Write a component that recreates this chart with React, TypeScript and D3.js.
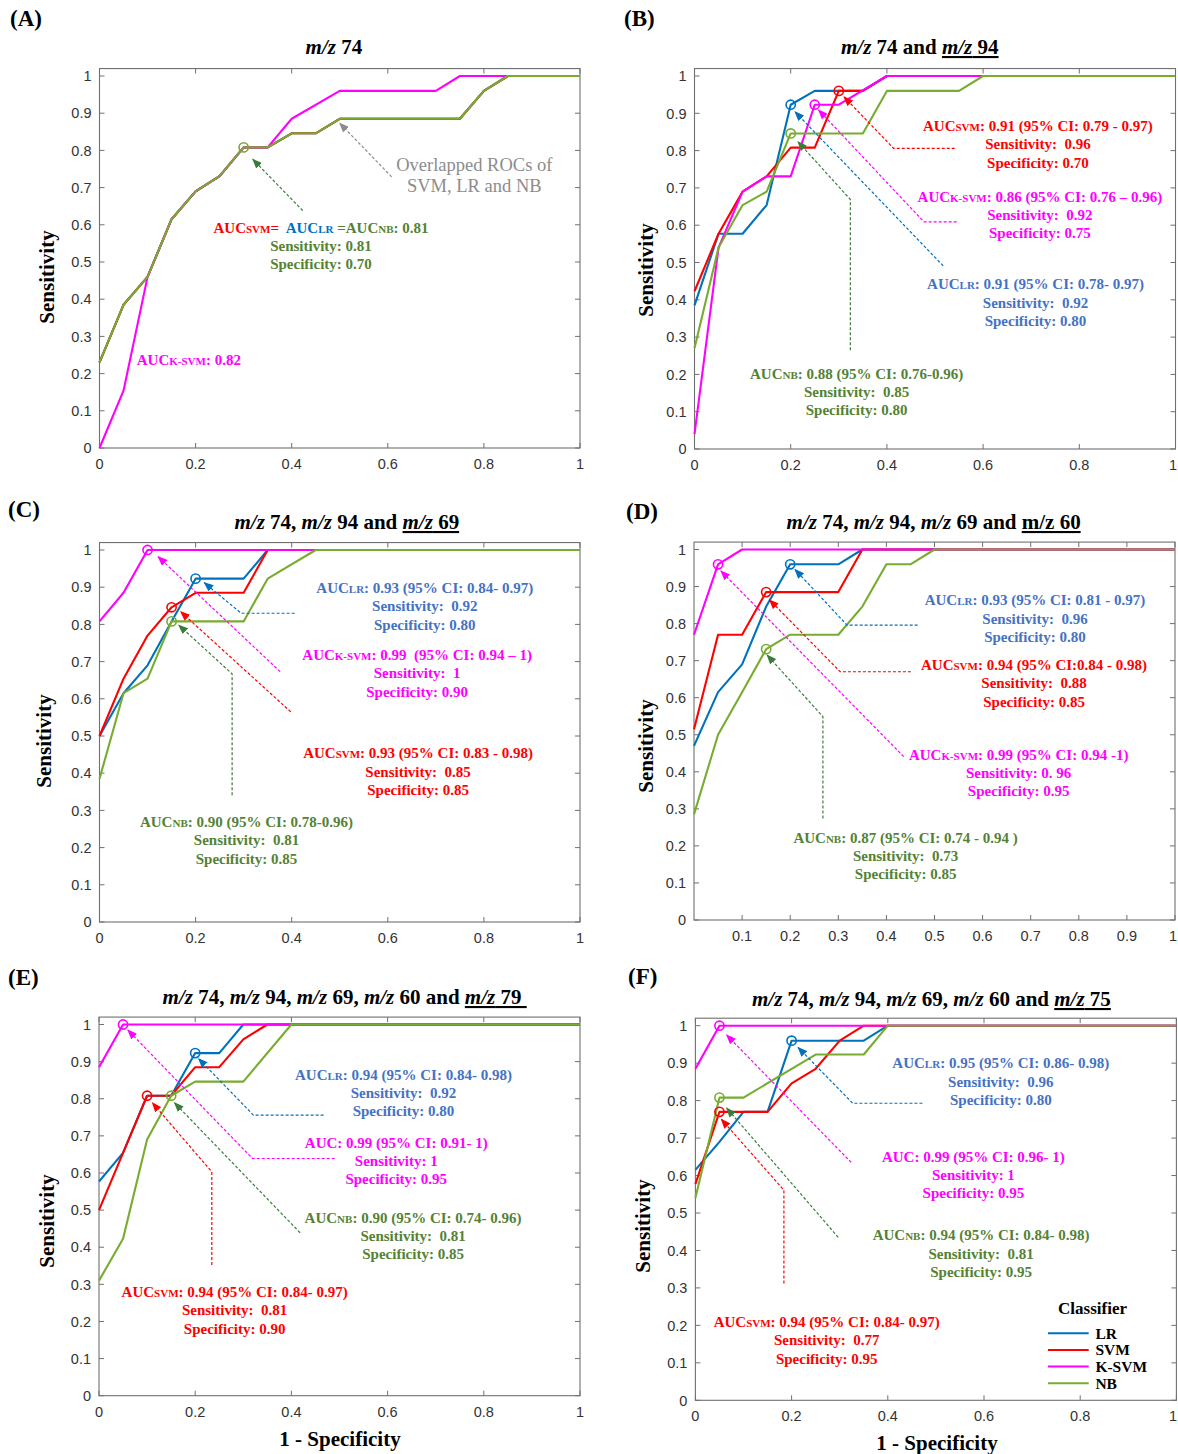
import React from 'react';
import * as d3 from 'd3';

type Pt = [number, number];

// ---------- classifiers ----------
const CLASSIFIERS = ['LR', 'SVM', 'K-SVM', 'NB'];
const CURVE_COLORS = ['#0072BD', '#FF0000', '#FF00FF', '#77AC30'];
const TEXT_COLORS = ['#4472C4', '#FF0000', '#FF00FF', '#548235'];
const ARROW_COLORS = ['#0070C0', '#FF0000', '#FF00FF', '#3A7D3A'];
const SUBS = ['LR', 'SVM', 'K-SVM', 'NB'];

// ---------- ROC data (FPR, TPR) ----------
// (A) m/z 74  (LR, SVM and NB overlap)
const A_NB: Pt[] = [[0, 0.23], [0.05, 0.385], [0.1, 0.46], [0.15, 0.615], [0.2, 0.69], [0.25, 0.731], [0.3, 0.808], [0.35, 0.808], [0.4, 0.846], [0.45, 0.846], [0.5, 0.885], [0.75, 0.885], [0.8, 0.96], [0.85, 1], [1, 1]];
const A_LR: Pt[] = [[0, 0.23], [0.05, 0.385], [0.1, 0.46], [0.15, 0.615], [0.2, 0.69], [0.25, 0.731], [0.3, 0.808], [0.35, 0.808], [0.4, 0.846], [0.45, 0.846], [0.5, 0.885], [0.75, 0.885], [0.8, 0.96], [0.85, 1], [1, 1]];
const A_SVM: Pt[] = [[0, 0.23], [0.05, 0.385], [0.1, 0.46], [0.15, 0.615], [0.2, 0.69], [0.25, 0.731], [0.3, 0.808], [0.35, 0.808], [0.4, 0.846], [0.45, 0.846], [0.5, 0.885], [0.75, 0.885], [0.8, 0.96], [0.85, 1], [1, 1]];
const A_KSVM: Pt[] = [[0, 0], [0.05, 0.154], [0.1, 0.46], [0.15, 0.615], [0.2, 0.69], [0.25, 0.731], [0.3, 0.808], [0.35, 0.808], [0.4, 0.885], [0.5, 0.96], [0.7, 0.96], [0.75, 1], [1, 1]];
// (B) m/z 74 and m/z 94
const B_LR: Pt[] = [[0, 0.385], [0.05, 0.577], [0.1, 0.577], [0.15, 0.654], [0.2, 0.923], [0.25, 0.96], [0.35, 0.96], [0.4, 1], [1, 1]];
const B_SVM: Pt[] = [[0, 0.423], [0.05, 0.577], [0.1, 0.69], [0.15, 0.731], [0.2, 0.808], [0.25, 0.808], [0.3, 0.96], [0.35, 0.96], [0.4, 1], [1, 1]];
const B_KSVM: Pt[] = [[0, 0.04], [0.05, 0.54], [0.1, 0.69], [0.15, 0.731], [0.2, 0.731], [0.25, 0.923], [0.3, 0.923], [0.4, 1], [1, 1]];
const B_NB: Pt[] = [[0, 0.27], [0.05, 0.54], [0.1, 0.654], [0.15, 0.69], [0.2, 0.846], [0.25, 0.846], [0.35, 0.846], [0.4, 0.96], [0.55, 0.96], [0.6, 1], [1, 1]];
// (C) m/z 74, m/z 94 and m/z 69
const C_LR: Pt[] = [[0, 0.5], [0.05, 0.615], [0.1, 0.69], [0.15, 0.808], [0.2, 0.923], [0.3, 0.923], [0.35, 1], [1, 1]];
const C_SVM: Pt[] = [[0, 0.5], [0.05, 0.654], [0.1, 0.77], [0.15, 0.846], [0.2, 0.885], [0.3, 0.885], [0.35, 1], [1, 1]];
const C_KSVM: Pt[] = [[0, 0.808], [0.05, 0.885], [0.1, 1], [1, 1]];
const C_NB: Pt[] = [[0, 0.385], [0.05, 0.615], [0.1, 0.654], [0.15, 0.808], [0.3, 0.808], [0.35, 0.923], [0.45, 1], [1, 1]];
// (D) m/z 74, m/z 94, m/z 69 and m/z 60
const D_LR: Pt[] = [[0, 0.47], [0.05, 0.615], [0.1, 0.69], [0.15, 0.846], [0.2, 0.96], [0.3, 0.96], [0.35, 1], [1, 1]];
const D_SVM: Pt[] = [[0, 0.515], [0.05, 0.77], [0.1, 0.77], [0.15, 0.885], [0.3, 0.885], [0.35, 1], [1, 1]];
const D_KSVM: Pt[] = [[0, 0.77], [0.05, 0.96], [0.1, 1], [1, 1]];
const D_NB: Pt[] = [[0, 0.285], [0.05, 0.5], [0.1, 0.615], [0.15, 0.731], [0.2, 0.77], [0.3, 0.77], [0.35, 0.846], [0.4, 0.96], [0.45, 0.96], [0.5, 1], [1, 1]];
// (E) m/z 74, m/z 94, m/z 69, m/z 60 and m/z 79
const E_LR: Pt[] = [[0, 0.577], [0.05, 0.654], [0.1, 0.808], [0.15, 0.808], [0.2, 0.923], [0.25, 0.923], [0.3, 1], [1, 1]];
const E_SVM: Pt[] = [[0, 0.5], [0.05, 0.654], [0.1, 0.808], [0.15, 0.808], [0.2, 0.885], [0.25, 0.885], [0.3, 0.96], [0.35, 1], [1, 1]];
const E_KSVM: Pt[] = [[0, 0.885], [0.05, 1], [1, 1]];
const E_NB: Pt[] = [[0, 0.31], [0.05, 0.423], [0.1, 0.69], [0.15, 0.808], [0.2, 0.846], [0.3, 0.846], [0.4, 1], [1, 1]];
// (F) m/z 74, m/z 94, m/z 69, m/z 60 and m/z 75
const F_LR: Pt[] = [[0, 0.615], [0.05, 0.69], [0.1, 0.77], [0.15, 0.77], [0.2, 0.96], [0.35, 0.96], [0.4, 1], [1, 1]];
const F_SVM: Pt[] = [[0, 0.577], [0.05, 0.77], [0.15, 0.77], [0.2, 0.846], [0.25, 0.885], [0.3, 0.96], [0.35, 1], [1, 1]];
const F_KSVM: Pt[] = [[0, 0.885], [0.05, 1], [1, 1]];
const F_NB: Pt[] = [[0, 0.54], [0.05, 0.808], [0.1, 0.808], [0.25, 0.923], [0.35, 0.923], [0.4, 1], [1, 1]];

// optimal cut-off points: [classifier index, fpr, tpr]
const A_OPT: [number, number, number][] = [[3, 0.3, 0.808]];
const B_OPT: [number, number, number][] = [[0, 0.2, 0.923], [1, 0.3, 0.96], [2, 0.25, 0.923], [3, 0.2, 0.846]];
const C_OPT: [number, number, number][] = [[0, 0.2, 0.923], [1, 0.15, 0.846], [2, 0.1, 1], [3, 0.15, 0.808]];
const D_OPT: [number, number, number][] = [[0, 0.2, 0.96], [1, 0.15, 0.885], [2, 0.05, 0.96], [3, 0.15, 0.731]];
const E_OPT: [number, number, number][] = [[0, 0.2, 0.923], [1, 0.1, 0.808], [2, 0.05, 1], [3, 0.15, 0.808]];
const F_OPT: [number, number, number][] = [[0, 0.2, 0.96], [1, 0.05, 0.77], [2, 0.05, 1], [3, 0.05, 0.808]];

// tick values
const Y_TICKS = [0, 0.1, 0.2, 0.3, 0.4, 0.5, 0.6, 0.7, 0.8, 0.9, 1];
const X_TICKS = [0, 0.2, 0.4, 0.6, 0.8, 1];
const X_TICKS_D = [0.1, 0.2, 0.3, 0.4, 0.5, 0.6, 0.7, 0.8, 0.9, 1];

// ---------- annotations ----------
type Seg = { t: string; sub?: boolean; color?: string };
type Ann = { color: string; arrow?: string; cx: number; ys: number[]; lines: Seg[][]; path?: Pt[]; size?: number; weight?: string };

function mk(ci: number, cx: number, ys: number[], path: Pt[], auc: string, sens: string, spec: string, noSub = false): Ann {
  const first: Seg[] = noSub ? [{ t: 'AUC' + auc }] : [{ t: 'AUC' }, { t: SUBS[ci], sub: true }, { t: auc }];
  return { color: TEXT_COLORS[ci], arrow: ARROW_COLORS[ci], cx, ys, path, lines: [first, [{ t: sens }], [{ t: spec }]] };
}

const A_ANN: Ann[] = [
  {
    color: TEXT_COLORS[3], arrow: ARROW_COLORS[3], cx: 0.461, ys: [0.578, 0.53, 0.481], path: [[0.423, 0.638], [0.319, 0.776]],
    lines: [
      [{ t: 'AUC', color: '#FF0000' }, { t: 'SVM', sub: true, color: '#FF0000' }, { t: '=  ', color: '#FF0000' }, { t: 'AUC', color: '#0070C0' }, { t: 'LR', sub: true, color: '#0070C0' }, { t: ' =AUC' }, { t: 'NB', sub: true }, { t: ': 0.81' }],
      [{ t: 'Sensitivity: 0.81' }],
      [{ t: 'Specificity: 0.70' }],
    ],
  },
  { color: '#8C8C8C', arrow: '#8C8C8C', cx: 0.78, ys: [0.745, 0.688], path: [[0.608, 0.729], [0.5, 0.873]], size: 18.5, weight: 'normal', lines: [[{ t: 'Overlapped ROCs of' }], [{ t: 'SVM, LR and NB' }]] },
  { color: TEXT_COLORS[2], cx: 0.186, ys: [0.223], lines: [[{ t: 'AUC' }, { t: 'K-SVM', sub: true }, { t: ': 0.82' }]] },
];
const B_ANN: Ann[] = [
  mk(1, 0.714, [0.853, 0.804, 0.753], [[0.541, 0.806], [0.414, 0.806], [0.311, 0.944]], ': 0.91 (95% CI: 0.79 - 0.97)', 'Sensitivity:  0.96', 'Specificity: 0.70'),
  mk(2, 0.718, [0.662, 0.614, 0.566], [[0.545, 0.609], [0.477, 0.609], [0.258, 0.909]], ': 0.86 (95% CI: 0.76 – 0.96)', 'Sensitivity:  0.92', 'Specificity: 0.75'),
  mk(0, 0.709, [0.429, 0.379, 0.33], [[0.517, 0.491], [0.209, 0.904]], ': 0.91 (95% CI: 0.78- 0.97)', 'Sensitivity:  0.92', 'Specificity: 0.80'),
  mk(3, 0.337, [0.189, 0.139, 0.091], [[0.324, 0.265], [0.324, 0.669], [0.215, 0.824]], ': 0.88 (95% CI: 0.76-0.96)', 'Sensitivity:  0.85', 'Specificity: 0.80'),
];
const C_ANN: Ann[] = [
  mk(0, 0.677, [0.884, 0.836, 0.786], [[0.406, 0.83], [0.295, 0.83], [0.218, 0.912]], ': 0.93 (95% CI: 0.84- 0.97)', 'Sensitivity:  0.92', 'Specificity: 0.80'),
  mk(2, 0.661, [0.704, 0.655, 0.605], [[0.376, 0.673], [0.122, 0.982]], ': 0.99  (95% CI: 0.94 – 1)', 'Sensitivity:  1', 'Specificity: 0.90'),
  mk(1, 0.663, [0.44, 0.39, 0.341], [[0.398, 0.565], [0.169, 0.834]], ': 0.93 (95% CI: 0.83 - 0.98)', 'Sensitivity:  0.85', 'Specificity: 0.85'),
  mk(3, 0.306, [0.255, 0.207, 0.157], [[0.276, 0.341], [0.276, 0.667], [0.165, 0.798]], ': 0.90 (95% CI: 0.78-0.96)', 'Sensitivity:  0.81', 'Specificity: 0.85'),
];
const D_ANN: Ann[] = [
  mk(0, 0.709, [0.85, 0.8, 0.75], [[0.465, 0.796], [0.318, 0.796], [0.21, 0.946]], ': 0.93 (95% CI: 0.81 - 0.97)', 'Sensitivity:  0.96', 'Specificity: 0.80'),
  mk(1, 0.707, [0.675, 0.625, 0.575], [[0.451, 0.67], [0.304, 0.67], [0.157, 0.864]], ': 0.94 (95% CI:0.84 - 0.98)', 'Sensitivity:  0.88', 'Specificity: 0.85'),
  mk(2, 0.675, [0.433, 0.383, 0.335], [[0.436, 0.441], [0.056, 0.942]], ': 0.99 (95% CI: 0.94 -1)', 'Sensitivity: 0. 96', 'Specificity: 0.95'),
  mk(3, 0.44, [0.209, 0.159, 0.111], [[0.268, 0.274], [0.268, 0.549], [0.152, 0.715]], ': 0.87 (95% CI: 0.74 - 0.94 )', 'Sensitivity:  0.73', 'Specificity: 0.85'),
];
const E_ANN: Ann[] = [
  mk(0, 0.633, [0.851, 0.802, 0.753], [[0.467, 0.756], [0.321, 0.756], [0.207, 0.908]], ': 0.94 (95% CI: 0.84- 0.98)', 'Sensitivity:  0.92', 'Specificity: 0.80'),
  mk(2, 0.618, [0.668, 0.618, 0.57], [[0.49, 0.639], [0.319, 0.639], [0.06, 0.985]], ': 0.99 (95% CI: 0.91- 1)', 'Sensitivity: 1', 'Specificity: 0.95', true),
  mk(3, 0.653, [0.466, 0.417, 0.368], [[0.418, 0.439], [0.157, 0.789]], ': 0.90 (95% CI: 0.74- 0.96)', 'Sensitivity:  0.81', 'Specificity: 0.85'),
  mk(1, 0.282, [0.266, 0.217, 0.167], [[0.2345, 0.352], [0.2345, 0.603], [0.111, 0.789]], ': 0.94 (95% CI: 0.84- 0.97)', 'Sensitivity:  0.81', 'Specificity: 0.90'),
];
const F_ANN: Ann[] = [
  mk(0, 0.635, [0.886, 0.836, 0.788], [[0.472, 0.793], [0.327, 0.793], [0.2135, 0.942]], ': 0.95 (95% CI: 0.86- 0.98)', 'Sensitivity:  0.96', 'Specificity: 0.80'),
  mk(2, 0.578, [0.636, 0.588, 0.539], [[0.324, 0.635], [0.065, 0.975]], ': 0.99 (95% CI: 0.96- 1)', 'Sensitivity: 1', 'Specificity: 0.95', true),
  mk(3, 0.594, [0.427, 0.377, 0.329], [[0.297, 0.435], [0.065, 0.78]], ': 0.94 (95% CI: 0.84- 0.98)', 'Sensitivity:  0.81', 'Specificity: 0.95'),
  mk(1, 0.273, [0.196, 0.148, 0.098], [[0.184, 0.312], [0.184, 0.561], [0.054, 0.75]], ': 0.94 (95% CI: 0.84- 0.97)', 'Sensitivity:  0.77', 'Specificity: 0.95'),
];

// ---------- titles ----------
type TPart = { t: string; i?: boolean; u?: boolean };
const A_TITLE: TPart[] = [{ t: 'm/z', i: true }, { t: ' 74' }];
const B_TITLE: TPart[] = [{ t: 'm/z', i: true }, { t: ' 74 and ' }, { t: 'm/z', i: true, u: true }, { t: ' 94', u: true }];
const C_TITLE: TPart[] = [{ t: 'm/z', i: true }, { t: ' 74, ' }, { t: 'm/z', i: true }, { t: ' 94 and ' }, { t: 'm/z', i: true, u: true }, { t: ' 69', u: true }];
const D_TITLE: TPart[] = [{ t: 'm/z', i: true }, { t: ' 74, ' }, { t: 'm/z', i: true }, { t: ' 94, ' }, { t: 'm/z', i: true }, { t: ' 69 and ' }, { t: 'm/z 60', u: true }];
const E_TITLE: TPart[] = [{ t: 'm/z', i: true }, { t: ' 74, ' }, { t: 'm/z', i: true }, { t: ' 94, ' }, { t: 'm/z', i: true }, { t: ' 69, ' }, { t: 'm/z', i: true }, { t: ' 60 and ' }, { t: 'm/z', i: true, u: true }, { t: ' 79 ', u: true }];
const F_TITLE: TPart[] = [{ t: 'm/z', i: true }, { t: ' 74, ' }, { t: 'm/z', i: true }, { t: ' 94, ' }, { t: 'm/z', i: true }, { t: ' 69, ' }, { t: 'm/z', i: true }, { t: ' 60 and ' }, { t: 'm/z', i: true, u: true }, { t: ' 75', u: true }];

// ---------- layout ----------
const SERIF = '"Times New Roman", "Liberation Serif", Times, serif';
const SANS = 'Arial, "Liberation Sans", Helvetica, sans-serif';
const AXIS_COLOR = '#707070';
const TICK_TEXT = '#333333';
const PAGE_W = 1178;

type PanelDef = {
  id: string; frame: { x0: number; x1: number; y0: number; y1: number };
  label: [number, number]; title: { x: number; y: number; parts: TPart[] };
  ylab: [number, number]; xlab?: [number, number]; xticks: number[];
  curves: Pt[][]; opt: [number, number, number][]; anns: Ann[]; legend?: boolean;
};

const PANELS: PanelDef[] = [
  { id: 'A', frame: { x0: 99.5, x1: 580, y0: 448, y1: 76 }, label: [10, 26], title: { x: 305.6, y: 54, parts: A_TITLE }, ylab: [47, 277], xticks: X_TICKS, curves: [A_LR, A_SVM, A_KSVM, A_NB], opt: A_OPT, anns: A_ANN },
  { id: 'B', frame: { x0: 694.5, x1: 1175.5, y0: 449, y1: 76 }, label: [624, 26], title: { x: 841, y: 54, parts: B_TITLE }, ylab: [646, 270], xticks: X_TICKS, curves: [B_LR, B_SVM, B_KSVM, B_NB], opt: B_OPT, anns: B_ANN },
  { id: 'C', frame: { x0: 99.5, x1: 580, y0: 922, y1: 550 }, label: [8, 517], title: { x: 234.5, y: 529, parts: C_TITLE }, ylab: [44, 741], xticks: X_TICKS, curves: [C_LR, C_SVM, C_KSVM, C_NB], opt: C_OPT, anns: C_ANN },
  { id: 'D', frame: { x0: 694, x1: 1175, y0: 920, y1: 549.5 }, label: [626, 519], title: { x: 786.6, y: 529, parts: D_TITLE }, ylab: [646, 746], xticks: X_TICKS_D, curves: [D_LR, D_SVM, D_KSVM, D_NB], opt: D_OPT, anns: D_ANN },
  { id: 'E', frame: { x0: 99, x1: 580, y0: 1395.7, y1: 1024.5 }, label: [8, 985], title: { x: 162.6, y: 1004, parts: E_TITLE }, ylab: [47, 1221], xlab: [340, 1446], xticks: X_TICKS, curves: [E_LR, E_SVM, E_KSVM, E_NB], opt: E_OPT, anns: E_ANN },
  { id: 'F', frame: { x0: 695.4, x1: 1176.4, y0: 1400.3, y1: 1025.7 }, label: [628, 984], title: { x: 752, y: 1006, parts: F_TITLE }, ylab: [643, 1226], xlab: [937, 1450], xticks: X_TICKS, curves: [F_LR, F_SVM, F_KSVM, F_NB], opt: F_OPT, anns: F_ANN, legend: true },
];

const fmt = (v: number) => (v === 0 ? '0' : v === 1 ? '1' : v.toFixed(1));
const markerId = (c: string) => 'arr' + c.replace('#', '');

function Panel({ p }: { p: PanelDef }) {
  const { x0, x1, y0, y1 } = p.frame;
  const x = d3.scaleLinear().domain([0, 1]).range([x0, x1]);
  const y = d3.scaleLinear().domain([0, 1]).range([y0, y1]);
  const top = y(1.02);
  const line = d3.line<Pt>().x((d) => x(d[0])).y((d) => y(d[1]));
  const tl = 5;
  return (
    <g>
      <text x={p.label[0]} y={p.label[1]} fontFamily={SERIF} fontWeight="bold" fontSize={23} fill="#000">({p.id})</text>
      <text x={p.title.x} y={p.title.y} fontFamily={SERIF} fontWeight="bold" fontSize={21} fill="#000" style={{ whiteSpace: 'pre' }}>
        {p.title.parts.map((s, i) => (
          <tspan key={i} fontStyle={s.i ? 'italic' : 'normal'} textDecoration={s.u ? 'underline' : undefined} style={s.u ? { textDecoration: 'underline' } : undefined}>{s.t}</tspan>
        ))}
      </text>
      {/* box */}
      <rect x={x0} y={top} width={x1 - x0} height={y0 - top} fill="#fff" stroke={AXIS_COLOR} strokeWidth={1.1} />
      {Y_TICKS.map((v) => (
        <g key={'y' + v}>
          <line x1={x0} x2={x0 + tl} y1={y(v)} y2={y(v)} stroke={AXIS_COLOR} />
          <line x1={x1} x2={x1 - tl} y1={y(v)} y2={y(v)} stroke={AXIS_COLOR} />
          <text x={x0 - 8} y={y(v)} dy="0.36em" textAnchor="end" fontFamily={SANS} fontSize={14.5} fill={TICK_TEXT}>{fmt(v)}</text>
        </g>
      ))}
      {p.xticks.map((v) => (
        <g key={'x' + v}>
          <line x1={x(v)} x2={x(v)} y1={y0} y2={y0 - tl} stroke={AXIS_COLOR} />
          <line x1={x(v)} x2={x(v)} y1={top} y2={top + tl} stroke={AXIS_COLOR} />
          <text x={Math.min(x(v), PAGE_W - 5)} y={y0 + 21} textAnchor="middle" fontFamily={SANS} fontSize={14.5} fill={TICK_TEXT}>{fmt(v)}</text>
        </g>
      ))}
      <text transform={`translate(${p.ylab[0] + 7},${p.ylab[1]}) rotate(-90)`} textAnchor="middle" fontFamily={SERIF} fontWeight="bold" fontSize={21} fill="#000">Sensitivity</text>
      {p.xlab && (
        <text x={p.xlab[0]} y={p.xlab[1]} textAnchor="middle" fontFamily={SERIF} fontWeight="bold" fontSize={21} fill="#000">1 - Specificity</text>
      )}
      {/* curves */}
      {p.curves.map((c, i) => (
        <path key={'c' + i} d={line(c) || ''} fill="none" stroke={CURVE_COLORS[i]} strokeWidth={2.1} strokeLinejoin="round" />
      ))}
      {p.opt.map(([ci, fx, ty], i) => (
        <circle key={'o' + i} cx={x(fx)} cy={y(ty)} r={4.6} fill="none" stroke={CURVE_COLORS[ci]} strokeWidth={1.6} />
      ))}
      {/* annotations */}
      {p.anns.map((a, i) => (
        <g key={'a' + i}>
          {a.path && (
            <path d={line(a.path) || ''} fill="none" stroke={a.arrow} strokeWidth={1.2} strokeDasharray="3,2" markerEnd={`url(#${markerId(a.arrow || '#000')})`} />
          )}
          {a.lines.map((ln, j) => (
            <text key={j} x={x(a.cx)} y={y(a.ys[j])} textAnchor="middle" fontFamily={SERIF} fontWeight={a.weight || 'bold'} fontSize={a.size || 15} fill={a.color} style={{ whiteSpace: 'pre' }}>
              {ln.map((s, k) => (
                <tspan key={k} fontSize={s.sub ? 11 : a.size || 15} fill={s.color || a.color}>{s.t}</tspan>
              ))}
            </text>
          ))}
        </g>
      ))}
      {p.legend && (
        <g fontFamily={SERIF} fontWeight="bold">
          <text x={x(0.754)} y={y(0.2304)} fontSize={17} fill="#000">Classifier</text>
          {CLASSIFIERS.map((name, i) => {
            const yy = y(0.179 - i * 0.0445);
            return (
              <g key={name}>
                <line x1={x(0.733)} x2={x(0.8177)} y1={yy} y2={yy} stroke={CURVE_COLORS[i]} strokeWidth={2} />
                <text x={x(0.8316)} y={yy + 5.5} fontSize={15.5} fill="#000">{name}</text>
              </g>
            );
          })}
        </g>
      )}
    </g>
  );
}

export default function App() {
  const arrowColors = Array.from(new Set([...ARROW_COLORS, '#8C8C8C']));
  return (
    <svg width={1178} height={1454} viewBox="0 0 1178 1454" style={{ position: 'absolute', left: 0, top: 0, background: '#fff' }}>
      <defs>
        {arrowColors.map((c) => (
          <marker key={c} id={markerId(c)} markerUnits="userSpaceOnUse" markerWidth={10} markerHeight={8} refX={9} refY={4} orient="auto">
            <path d="M0,0 L10,4 L0,8 Z" fill={c} />
          </marker>
        ))}
      </defs>
      <rect x={0} y={0} width={1178} height={1454} fill="#fff" />
      {PANELS.map((p) => (
        <Panel key={p.id} p={p} />
      ))}
    </svg>
  );
}
